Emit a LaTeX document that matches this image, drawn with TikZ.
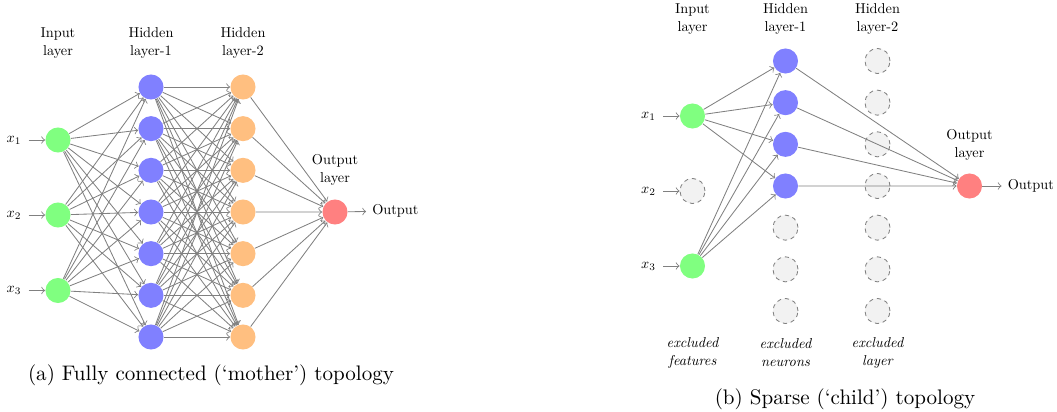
\documentclass[tikz,border=0pt]{standalone}
\begin{document}
\begin{tikzpicture}[x=0.475pt, y=-0.475pt,
  neuron/.style={circle, minimum size=11.9pt, inner sep=0pt},
  innode/.style={neuron, fill=green!50},
  hidnode/.style={neuron, fill=blue!50},
  hidtwonode/.style={neuron, fill=orange!50},
  outnode/.style={neuron, fill=red!50},
  offnode/.style={neuron, fill=gray!10, draw=gray, dash pattern=on 2pt off 1.8pt, line width=0.4pt},
  conn/.style={->, draw=gray, line width=0.4pt},
  lbl/.style={font=\fontsize{10}{12.6}\selectfont, align=center, inner sep=0pt, scale=0.68, transform shape},
  exlbl/.style={lbl, font=\fontsize{10}{12.6}\selectfont\itshape},
  captext/.style={font=\fontsize{10}{12}\selectfont, inner sep=0pt}]
\useasboundingbox (0,0) rectangle (1057,412);

% ---------- (a) fully connected network ----------
\node[lbl] (a-lin) at (58,43) {Input\\layer};
\node[lbl] (a-lh1) at (151,43) {Hidden\\layer-1};
\node[lbl] (a-lh2) at (243,43) {Hidden\\layer-2};
\node[lbl] (a-lout) at (335,170) {Output\\layer};

\foreach \i/\y in {1/140,2/215,3/290.5} {
  \node[innode] (a-in-\i) at (58,\y) {};
  \node[lbl, anchor=east] (a-x\i) at (21.5,\y) {$x_{\i}$};
  \draw[conn, shorten <=3.4pt] (a-x\i) -- (a-in-\i);
}
\foreach \j in {1,...,7} {
  \node[hidnode] (a-h1-\j) at (151,{87+(\j-1)*41.6667}) {};
  \node[hidtwonode] (a-h2-\j) at (243,{87+(\j-1)*41.6667}) {};
}
\node[outnode] (a-out) at (335,212) {};
\node[lbl, anchor=west] (a-o) at (372,211) {Output};

\foreach \i in {1,2,3}
  \foreach \j in {1,...,7}
    \draw[conn] (a-in-\i) -- (a-h1-\j);
\foreach \i in {1,...,7}
  \foreach \j in {1,...,7}
    \draw[conn] (a-h1-\i) -- (a-h2-\j);
\foreach \i in {1,...,7}
  \draw[conn] (a-h2-\i) -- (a-out);
\draw[conn, shorten >=2.8pt] (a-out) -- (a-o);

\node[captext] (a-cap) at (211,375) {(a) Fully connected (‘mother’) topology};

% ---------- (b) sparse network ----------
\begin{scope}[shift={(634.5,-25)}]
\node[lbl] (b-lin) at (58,44) {Input\\layer};
\node[lbl] (b-lh1) at (151,44) {Hidden\\layer-1};
\node[lbl] (b-lh2) at (243,44) {Hidden\\layer-2};
\node[lbl] (b-lout) at (335,169.5) {Output\\layer};

\node[innode] (b-in-1) at (58,141) {};
\node[offnode] (b-in-2) at (58,216) {};
\node[innode] (b-in-3) at (58,291) {};
\foreach \i/\y in {1/141,2/216,3/291} {
  \node[lbl, anchor=east] (b-x\i) at (21.5,\y) {$x_{\i}$};
  \draw[conn, shorten <=3.4pt] (b-x\i) -- (b-in-\i);
}
\foreach \j in {1,...,4}
  \node[hidnode] (b-h1-\j) at (151,{86+(\j-1)*41.6667}) {};
\foreach \j in {5,6,7}
  \node[offnode] (b-h1-\j) at (151,{86+(\j-1)*41.6667}) {};
\foreach \j in {1,...,7}
  \node[offnode] (b-h2-\j) at (243,{86+(\j-1)*41.6667}) {};
\node[outnode] (b-out) at (335,211) {};
\node[lbl, anchor=west] (b-o) at (373,211) {Output};

\foreach \i in {1,3}
  \foreach \j in {1,...,4}
    \draw[conn] (b-in-\i) -- (b-h1-\j);
\foreach \j in {1,...,4}
  \draw[conn] (b-h1-\j) -- (b-out);
\draw[conn, shorten >=2.8pt] (b-out) -- (b-o);

\node[exlbl] (b-exf) at (58,378) {excluded\\features};
\node[exlbl] (b-exn) at (151,378) {excluded\\neurons};
\node[exlbl] (b-exl) at (243,378) {excluded\\layer};
\end{scope}

\node[captext] (b-cap) at (845,399) {(b) Sparse (‘child’) topology};
\end{tikzpicture}
\end{document}
